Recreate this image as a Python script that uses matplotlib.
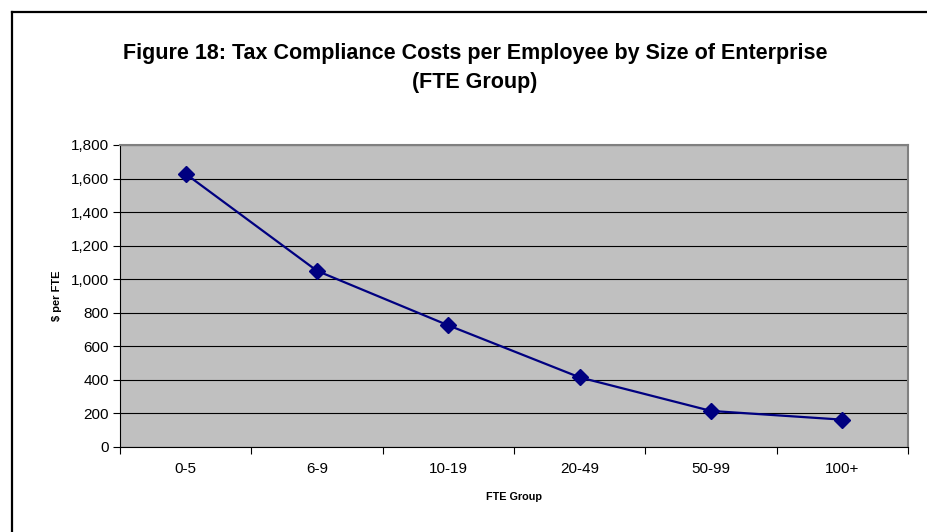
import matplotlib
matplotlib.use("Agg")
import matplotlib.pyplot as plt
from matplotlib.lines import Line2D
from matplotlib.ticker import FuncFormatter, FixedLocator

plt.rcParams['font.family'] = ['Liberation Sans', 'DejaVu Sans']

# FTE group categories and compliance cost per FTE ($)
groups = ['0-5', '6-9', '10-19', '20-49', '50-99', '100+']
cost_per_fte = [1628, 1050, 725, 415, 215, 163]
y_ticks = list(range(0, 1801, 200))

fig = plt.figure(figsize=(9.28, 5.32), dpi=100)
fig.patch.set_facecolor('white')

# outer chart frame (left and top edges)
fig.add_artist(Line2D([12 / 928, 12 / 928], [0, 1 - 12 / 532], color='black', lw=1.6))
fig.add_artist(Line2D([12 / 928, 1], [1 - 12 / 532, 1 - 12 / 532], color='black', lw=1.6))

ax = fig.add_axes([120 / 928, 1 - 447 / 532, 788 / 928, 302 / 532])
ax.set_facecolor('#C0C0C0')

x = list(range(len(groups)))
ax.plot(x, cost_per_fte, color='#000080', lw=1.6, marker='D', markersize=8.5,
        markerfacecolor='#000080', markeredgecolor='#000080', zorder=3)

ax.set_xlim(-0.5, len(groups) - 0.5)
ax.set_ylim(0, 1800)
ax.set_yticks(y_ticks)
ax.yaxis.set_major_formatter(FuncFormatter(lambda v, p: f'{int(v):,}'))
ax.grid(axis='y', color='black', lw=0.8)
ax.set_axisbelow(True)

# category labels centred, tick marks between categories
ax.set_xticks(x)
ax.set_xticklabels(groups)
ax.xaxis.set_minor_locator(FixedLocator([i - 0.5 for i in range(len(groups) + 1)]))
ax.tick_params(axis='x', which='major', length=0, pad=11, labelsize=11)
ax.tick_params(axis='x', which='minor', length=5, width=0.8, direction='out')
ax.tick_params(axis='y', length=5, width=0.8, labelsize=11, pad=3)

for side in ['top', 'right']:
    ax.spines[side].set_color('#808080')
    ax.spines[side].set_linewidth(1.5)
for side in ['left', 'bottom']:
    ax.spines[side].set_color('black')
    ax.spines[side].set_linewidth(0.8)

ax.set_xlabel('FTE Group', fontsize=7.8, fontweight='bold', labelpad=11)
ax.set_ylabel('$ per FTE', fontsize=8, fontweight='bold', labelpad=6)

fig.text(475 / 928, 1 - 68 / 532,
         'Figure 18: Tax Compliance Costs per Employee by Size of Enterprise\n(FTE Group)',
         ha='center', va='center', fontsize=15.5, fontweight='bold', linespacing=1.45)

fig.savefig('out.png', dpi=100)
